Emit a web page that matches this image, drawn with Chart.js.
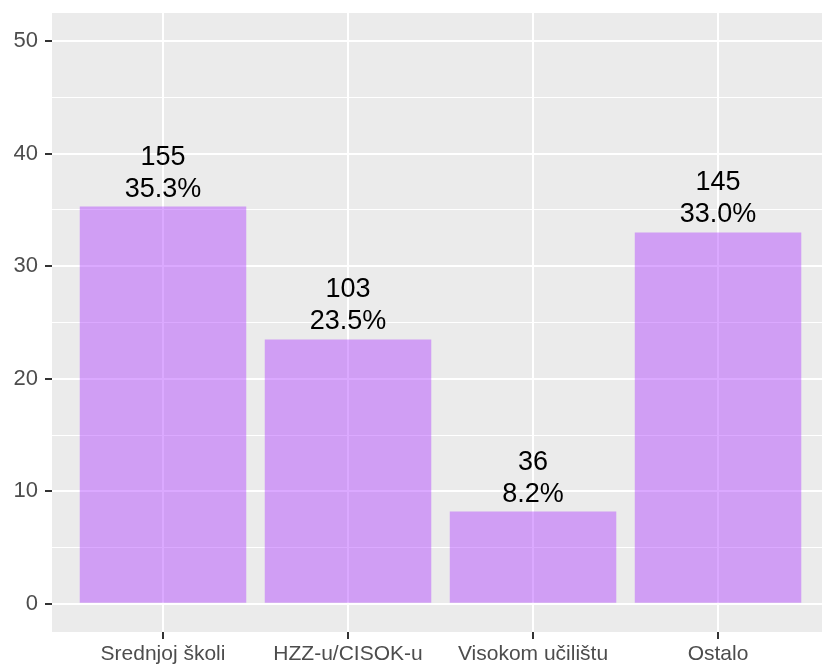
<!DOCTYPE html>
<html><head><meta charset="utf-8">
<script src="https://cdn.jsdelivr.net/npm/chart.js@4/dist/chart.umd.min.js"></script>
<style>html,body{margin:0;padding:0;background:#fff;} #wrap{width:822px;height:668px;}</style>
</head><body><div id="wrap"><canvas id="c" width="822" height="668"></canvas></div>
<script>
const categories = ["Srednjoj školi", "HZZ-u/CISOK-u", "Visokom učilištu", "Ostalo"];
const counts = [155, 103, 36, 145];
const percents = [35.3, 23.5, 8.2, 33.0];
const yMajorTicks = [0, 10, 20, 30, 40, 50];
const yMinorTicks = [5, 15, 25, 35, 45];

const FONT = '"Liberation Sans", Arial, sans-serif';

const panelBg = {
  id: 'panelBg',
  beforeDraw(chart) {
    const {ctx, chartArea: a} = chart;
    ctx.save();
    ctx.fillStyle = '#fff';
    ctx.fillRect(0, 0, chart.width, chart.height);
    ctx.fillStyle = '#EBEBEB';
    ctx.fillRect(a.left, a.top, a.right - a.left, a.bottom - a.top);
    ctx.restore();
  }
};

const barLabels = {
  id: 'barLabels',
  afterDatasetsDraw(chart) {
    const ctx = chart.ctx;
    const meta = chart.getDatasetMeta(0);
    ctx.save();
    ctx.font = '27px ' + FONT;
    ctx.fillStyle = '#000';
    ctx.textAlign = 'center';
    ctx.textBaseline = 'alphabetic';
    meta.data.forEach((el, i) => {
      ctx.fillText(percents[i].toFixed(1) + '%', el.x, el.y - 10);
      ctx.fillText(String(counts[i]), el.x, el.y - 42);
    });
    ctx.restore();
  }
};

new Chart(document.getElementById('c'), {
  type: 'bar',
  data: {
    datasets: [{
      data: percents.map((p, i) => ({x: i + 1, y: p})),
      backgroundColor: 'rgba(175,64,255,0.45)',
      borderWidth: 0,
      barPercentage: 0.9,
      categoryPercentage: 1
    }]
  },
  options: {
    responsive: false,
    devicePixelRatio: 1,
    animation: false,
    layout: {padding: {top: 13, right: 0, left: 0, bottom: 0}},
    plugins: {legend: {display: false}, tooltip: {enabled: false}},
    scales: {
      x: {
        type: 'linear',
        offset: false,
        min: 0.4,
        max: 4.562,
        afterBuildTicks(scale) {
          scale.ticks = categories.map((c, i) => ({value: i + 1}));
        },
        afterFit(scale) {
          scale.height = 36;
          scale.paddingLeft = 0; scale.paddingRight = 0;
        },
        border: {display: false},
        grid: {offset: false, color: '#fff', lineWidth: 2, tickColor: '#333', tickLength: 7, tickWidth: 2},
        ticks: {
          callback: (v) => categories[Math.round(v) - 1],
          autoSkip: false, maxRotation: 0, minRotation: 0,
          color: '#4D4D4D', font: {family: FONT, size: 21}, padding: 3
        }
      },
      y: {
        type: 'linear',
        min: -2.5,
        max: 52.5,
        afterBuildTicks(scale) {
          scale.ticks = yMajorTicks.concat(yMinorTicks).sort((a, b) => a - b).map(v => ({value: v}));
        },
        afterFit(scale) {
          scale.width = 52;
          scale.paddingTop = 0; scale.paddingBottom = 0;
        },
        border: {display: false},
        grid: {
          color: '#fff',
          lineWidth: (c) => (c.tick && yMajorTicks.includes(c.tick.value)) ? 2 : 1,
          tickColor: (c) => (c.tick && yMajorTicks.includes(c.tick.value)) ? '#333' : 'rgba(0,0,0,0)',
          tickLength: 7, tickWidth: 2
        },
        ticks: {
          callback: (v) => yMajorTicks.includes(v) ? String(v) : '',
          color: '#4D4D4D', font: {family: FONT, size: 22}, padding: 7
        }
      }
    }
  },
  plugins: [panelBg, barLabels]
});
</script>
</body></html>
